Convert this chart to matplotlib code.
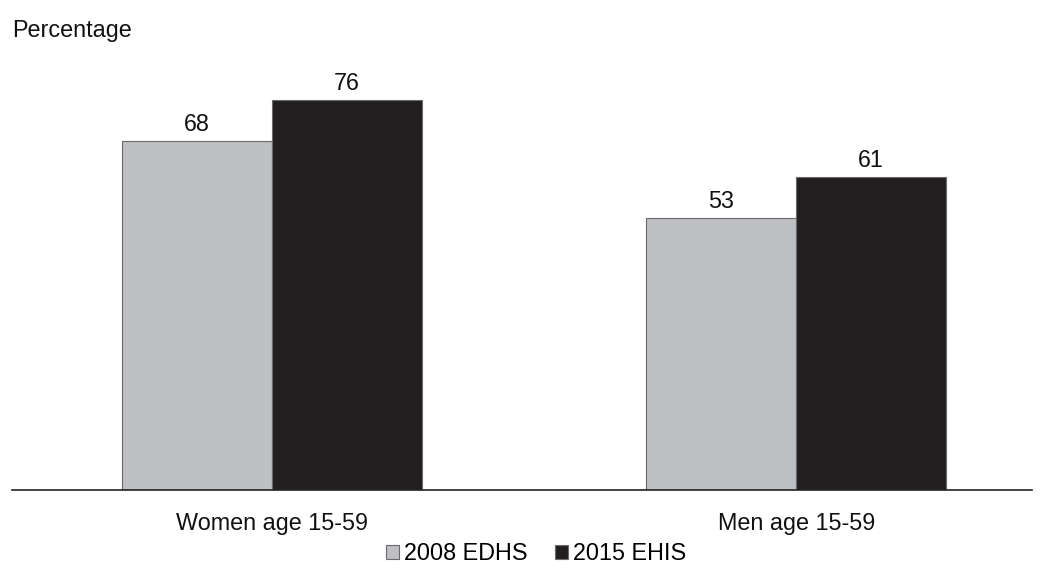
import matplotlib
matplotlib.use("Agg")
import matplotlib.pyplot as plt
import numpy as np
from matplotlib.patches import Patch

categories = ["Women age 15-59", "Men age 15-59"]
series_names = ["2008 EDHS", "2015 EHIS"]
values_2008 = [68, 53]
values_2015 = [76, 61]

colors = ["#BFC0C4", "#231F20"]
edge = "#6a6a6a"

plt.rcParams['font.family'] = ['Liberation Sans', 'DejaVu Sans']
FS = 16.8

W, H = 1044, 574
fig = plt.figure(figsize=(W / 100, H / 100), dpi=100)

ax_left, ax_right = 12, 1032
base_y = 490
ppu = 5.13
ymax = 80
top_y = base_y - ymax * ppu
ax = fig.add_axes([ax_left / W, (H - base_y) / H, (ax_right - ax_left) / W, (base_y - top_y) / H])

x = np.arange(len(categories))
bw = 0.286
b1 = ax.bar(x - bw / 2, values_2008, bw, color=colors[0], edgecolor=edge, linewidth=0.8, label=series_names[0])
b2 = ax.bar(x + bw / 2, values_2015, bw, color=colors[1], edgecolor=edge, linewidth=0.8, label=series_names[1])

for bars, vals in ((b1, values_2008), (b2, values_2015)):
    for r, v in zip(bars, vals):
        ax.annotate(f"{v}", (r.get_x() + r.get_width() / 2, v), xytext=(0, 3.5),
                    textcoords="offset points", ha="center", va="bottom", fontsize=FS, color="#111111")

ax.set_xlim(-0.496, 1.450)
ax.set_ylim(0, ymax)
ax.set_xticks(x)
ax.set_xticklabels(categories, fontsize=FS, color="#111111")
ax.tick_params(axis="x", length=0, pad=16)
ax.set_yticks([])
for s in ("top", "left", "right"):
    ax.spines[s].set_visible(False)
ax.spines["bottom"].set_color("#222222")
ax.spines["bottom"].set_linewidth(1.2)

fig.text(12 / W, 1 - 31 / H, "Percentage", ha="left", va="center", fontsize=FS, color="#111111")

handles = [Patch(facecolor=colors[0], edgecolor=edge, linewidth=0.8),
           Patch(facecolor=colors[1], edgecolor=edge, linewidth=0.8)]
fig.legend(handles, series_names, loc="center", bbox_to_anchor=(536 / W, 1 - 554 / H),
           ncol=2, frameon=False, fontsize=FS, handlelength=0.55, handleheight=0.55,
           handletextpad=0.2, columnspacing=1.2, borderpad=0.1)

fig.savefig("out.png", dpi=100)
